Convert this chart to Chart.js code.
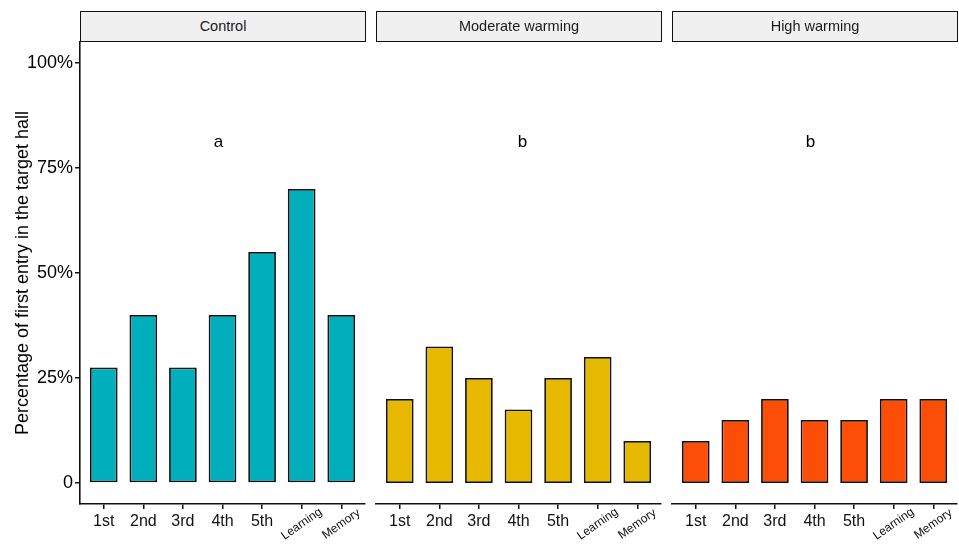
<!DOCTYPE html>
<html>
<head>
<meta charset="utf-8">
<script src="https://cdn.jsdelivr.net/npm/chart.js@4"></script>
<style>
  html, body { margin: 0; padding: 0; background: #fff; }
  #fig { position: relative; width: 959px; height: 546px; overflow: hidden; font-family: "Liberation Sans", Arial, Helvetica, sans-serif; }
  canvas { position: absolute; top: 0; }
  .strip { position: absolute; top: 11px; height: 31px; box-sizing: border-box; border: 1.6px solid #111; background: #f0f0f0;
           font-size: 14.5px; color: #1a1a1a; text-align: center; line-height: 29px; }
</style>
</head>
<body>
<div id="fig">
  <canvas id="c0" width="366" height="546" style="left:0px"></canvas>
  <canvas id="c1" width="300" height="546" style="left:366px"></canvas>
  <canvas id="c2" width="297" height="546" style="left:662px"></canvas>
  <div class="strip" style="left:80px;width:286px">Control</div>
  <div class="strip" style="left:376px;width:286px">Moderate warming</div>
  <div class="strip" style="left:672px;width:286px">High warming</div>
</div>
<script>
// Trial stages on the x axis
const stages = ['1st', '2nd', '3rd', '4th', '5th', 'Learning', 'Memory'];

// Share of individuals whose first entry was the target hall
const controlValues  = [0.275, 0.40, 0.275, 0.40, 0.55, 0.70, 0.40];
const moderateValues = [0.20, 0.325, 0.25, 0.175, 0.25, 0.30, 0.10];
const highValues     = [0.10, 0.15, 0.20, 0.15, 0.15, 0.20, 0.20];

// Group letters from the post-hoc comparison
const groupLetters = ['a', 'b', 'b'];

// Y axis ticks
const yTickValues = [0, 0.25, 0.5, 0.75, 1];
const yTickLabels = ['0', '25%', '50%', '75%', '100%'];

const FONT = '"Liberation Sans", Arial, Helvetica, sans-serif';
Chart.defaults.font.family = FONT;
Chart.defaults.color = '#000';

// Draws the stage labels (last two rotated) and the group letter
function panelText(letter, letterX) {
  return {
    id: 'panelText',
    afterDraw(chart) {
      const ctx = chart.ctx;
      const xs = chart.scales.x, ys = chart.scales.y;
      const base = chart.chartArea.bottom;
      ctx.save();
      ctx.fillStyle = '#111';
      stages.forEach((s, i) => {
        const px = xs.getPixelForValue(i + 1);
        if (i < 5) {
          ctx.font = '16px ' + FONT;
          ctx.textAlign = 'center';
          ctx.textBaseline = 'alphabetic';
          ctx.fillText(s, px, base + 22);
        } else {
          ctx.save();
          ctx.translate(px, base + 20);
          ctx.rotate(-35 * Math.PI / 180);
          ctx.font = '12px ' + FONT;
          ctx.textAlign = 'center';
          ctx.textBaseline = 'middle';
          ctx.fillText(s, 0, 0);
          ctx.restore();
        }
      });
      ctx.font = '17px ' + FONT;
      ctx.fillStyle = '#000';
      ctx.textAlign = 'center';
      ctx.textBaseline = 'alphabetic';
      ctx.fillText(letter, xs.getPixelForValue(letterX), ys.getPixelForValue(0.8));
      ctx.restore();
    }
  };
}

function makePanel(id, values, color, showY, letter, letterX, padL, padR) {
  return new Chart(document.getElementById(id), {
    type: 'bar',
    data: {
      datasets: [{
        data: values.map((v, i) => ({ x: i + 1, y: v })),
        backgroundColor: color,
        borderColor: '#111',
        borderWidth: 1.8,
        borderSkipped: false,
        barPercentage: 0.7,
        categoryPercentage: 1
      }]
    },
    options: {
      responsive: false,
      animation: false,
      devicePixelRatio: 1,
      layout: { padding: { top: 42, left: padL, right: padR, bottom: 0 } },
      plugins: { legend: { display: false }, tooltip: { enabled: false } },
      scales: {
        x: {
          type: 'linear',
          offset: false,
          min: 0.4, max: 7.6,
          afterBuildTicks: s => { s.ticks = stages.map((_, i) => ({ value: i + 1 })); },
          ticks: { display: false },
          grid: { display: true, drawOnChartArea: false, drawTicks: true, tickLength: 5, color: '#111', lineWidth: 1.5, offset: false },
          border: { display: true, color: '#111', width: 1.6 },
          afterFit: s => { s.height = 42; }
        },
        y: {
          display: showY,
          min: -0.05, max: 1.05,
          afterBuildTicks: s => { s.ticks = yTickValues.map(v => ({ value: v })); },
          ticks: {
            font: { size: 18 },
            color: '#000',
            padding: 2,
            callback: v => yTickLabels[yTickValues.indexOf(v)]
          },
          grid: { display: true, drawOnChartArea: false, drawTicks: true, tickLength: 5, color: '#111', lineWidth: 1.5 },
          border: { display: true, color: '#111', width: 1.6 },
          title: {
            display: true,
            text: 'Percentage of first entry in the target hall',
            font: { size: 18 },
            color: '#000',
            padding: { top: 12, bottom: 0 }
          },
          afterFit: s => { s.width = showY ? 80 : 0; }
        }
      }
    },
    plugins: [panelText(letter, letterX)]
  });
}

makePanel('c0', controlValues,  '#00AFBB', true,  groupLetters[0], 3.9, 0, 1);
makePanel('c1', moderateValues, '#E7B800', false, groupLetters[1], 4.1, 10, 5);
makePanel('c2', highValues,     '#FC4E07', false, groupLetters[2], 3.9, 10, 2);
</script>
</body>
</html>
